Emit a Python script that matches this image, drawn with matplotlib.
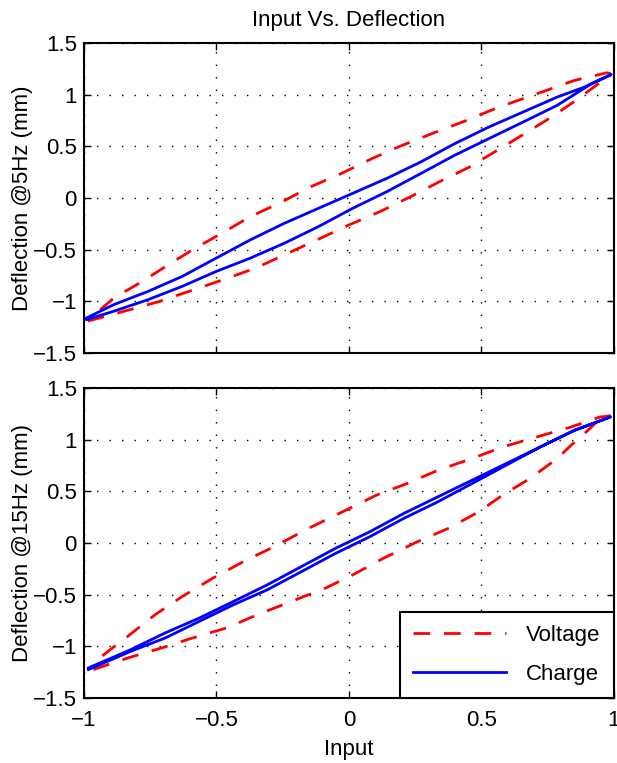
import numpy as np
import matplotlib.pyplot as plt

plt.rcParams['font.family'] = ['Liberation Sans', 'DejaVu Sans']

# ---- 5 Hz data ----
# voltage, lower branch (input rising)
v5_lo_x = [-0.985, -0.964, -0.848, -0.713, -0.604, -0.463, -0.346, -0.230, -0.115, 0.001,
           0.117, 0.233, 0.342, 0.452, 0.561, 0.664, 0.761, 0.857, 0.941, 0.979]
v5_lo_y = [-1.19, -1.177, -1.096, -1.000, -0.904, -0.781, -0.672, -0.534, -0.399, -0.260,
           -0.132, 0.013, 0.158, 0.296, 0.463, 0.624, 0.778, 0.945, 1.106, 1.203]
# voltage, upper branch (input falling)
v5_hi_x = [0.985, 0.973, 0.851, 0.703, 0.561, 0.439, 0.320, 0.194, 0.088, -0.028, -0.144,
           -0.256, -0.372, -0.475, -0.591, -0.681, -0.784, -0.887, -0.964, -0.985]
v5_hi_y = [1.205, 1.212, 1.138, 1.003, 0.875, 0.746, 0.630, 0.502, 0.383, 0.238, 0.109,
           -0.042, -0.180, -0.334, -0.502, -0.646, -0.814, -0.968, -1.138, -1.19]

c5_lo_x = [-0.990, -0.887, -0.758, -0.629, -0.501, -0.372, -0.243, -0.115, 0.014, 0.143,
           0.272, 0.400, 0.529, 0.658, 0.786, 0.915, 0.990]
c5_lo_y = [-1.177, -1.096, -0.984, -0.855, -0.711, -0.582, -0.437, -0.277, -0.100, 0.061,
           0.238, 0.415, 0.576, 0.736, 0.897, 1.106, 1.195]
c5_hi_x = [0.990, 0.889, 0.786, 0.658, 0.529, 0.400, 0.272, 0.143, 0.014, -0.115, -0.243,
           -0.372, -0.501, -0.629, -0.758, -0.887, -0.990]
c5_hi_y = [1.195, 1.074, 0.977, 0.833, 0.688, 0.527, 0.350, 0.190, 0.045, -0.100, -0.244,
           -0.405, -0.582, -0.759, -0.904, -1.032, -1.161]

# ---- 15 Hz data ----
v15_lo_x = [-0.964, -0.835, -0.707, -0.591, -0.463, -0.346, -0.218, -0.089, 0.014, 0.130,
            0.259, 0.375, 0.490, 0.580, 0.683, 0.786, 0.838, 0.902, 0.954, 0.985]
v15_lo_y = [-1.225, -1.113, -1.016, -0.920, -0.823, -0.695, -0.566, -0.437, -0.309, -0.148,
            0.013, 0.141, 0.302, 0.463, 0.624, 0.817, 0.945, 1.090, 1.219, 1.23]
v15_hi_x = [0.985, 0.947, 0.838, 0.709, 0.580, 0.464, 0.336, 0.220, 0.104, -0.024, -0.153,
            -0.282, -0.398, -0.514, -0.629, -0.732, -0.835, -0.925, -0.970]
v15_hi_y = [1.23, 1.219, 1.122, 1.026, 0.929, 0.817, 0.704, 0.576, 0.463, 0.302, 0.141,
            -0.035, -0.180, -0.341, -0.518, -0.695, -0.904, -1.080, -1.193]

c15_lo_x = [-0.983, -0.823, -0.694, -0.565, -0.436, -0.308, -0.179, -0.050, 0.079, 0.207,
            0.336, 0.465, 0.593, 0.722, 0.851, 0.986]
c15_lo_y = [-1.225, -1.048, -0.920, -0.759, -0.598, -0.453, -0.277, -0.100, 0.061, 0.238,
            0.399, 0.576, 0.752, 0.929, 1.090, 1.219]
c15_hi_x = [0.986, 0.851, 0.722, 0.593, 0.465, 0.336, 0.207, 0.079, -0.050, -0.179, -0.308,
            -0.436, -0.565, -0.694, -0.823, -0.983]
c15_hi_y = [1.219, 1.090, 0.929, 0.768, 0.608, 0.447, 0.286, 0.109, -0.051, -0.228, -0.405,
            -0.566, -0.727, -0.871, -1.032, -1.209]

xticks = [-1, -0.5, 0, 0.5, 1]
yticks = [-1.5, -1, -0.5, 0, 0.5, 1, 1.5]

FS = 16


def fmt(v):
    return ('%g' % v).replace('-', '\u2212')


def style_axes(ax, ylabel, show_x):
    ax.set_xlim(-1, 1)
    ax.set_ylim(-1.5, 1.5)
    ax.set_xticks(xticks)
    ax.set_yticks(yticks)
    ax.set_yticklabels([fmt(v) for v in yticks])
    if show_x:
        ax.set_xticklabels([fmt(v) for v in xticks])
    else:
        ax.set_xticklabels([])
    ax.tick_params(direction='in', top=True, right=True, length=5, width=1,
                   labelsize=FS, pad=5)
    ax.tick_params(axis='x', pad=8.5)
    ax.grid(True, color='black', linestyle=(0, (1, 8)), linewidth=1.0)
    for sp in ax.spines.values():
        sp.set_linewidth(1.5)
    ax.set_ylabel(ylabel, fontsize=FS, labelpad=0)


fig = plt.figure(figsize=(6.17, 7.63), dpi=100)
ax1 = fig.add_axes([0.136, 0.5374, 0.859, 0.4062])
ax2 = fig.add_axes([0.136, 0.0852, 0.859, 0.4063])

dash = (0, (6, 5))
for ax, vlo, vhi, clo, chi in [
        (ax1, (v5_lo_x, v5_lo_y), (v5_hi_x, v5_hi_y), (c5_lo_x, c5_lo_y), (c5_hi_x, c5_hi_y)),
        (ax2, (v15_lo_x, v15_lo_y), (v15_hi_x, v15_hi_y), (c15_lo_x, c15_lo_y), (c15_hi_x, c15_hi_y))]:
    ax.plot(np.r_[vlo[0], vhi[0]], np.r_[vlo[1], vhi[1]], color='red', linestyle=dash,
            linewidth=2, label='Voltage')
    ax.plot(np.r_[clo[0], chi[0]], np.r_[clo[1], chi[1]], color='blue', linestyle='-',
            linewidth=2, label='Charge')

style_axes(ax1, 'Deflection @5Hz (mm)', False)
style_axes(ax2, 'Deflection @15Hz (mm)', True)
ax1.set_title('Input Vs. Deflection', fontsize=FS, pad=12)
ax2.set_xlabel('Input', fontsize=FS, labelpad=6)

leg = ax2.legend(loc='lower right', fontsize=FS, fancybox=False, framealpha=1,
                 edgecolor='black', borderaxespad=0, handlelength=4.2,
                 borderpad=0.6, labelspacing=0.8, handletextpad=0.9)
leg.get_frame().set_linewidth(1.5)

fig.savefig('out.png', dpi=100)
